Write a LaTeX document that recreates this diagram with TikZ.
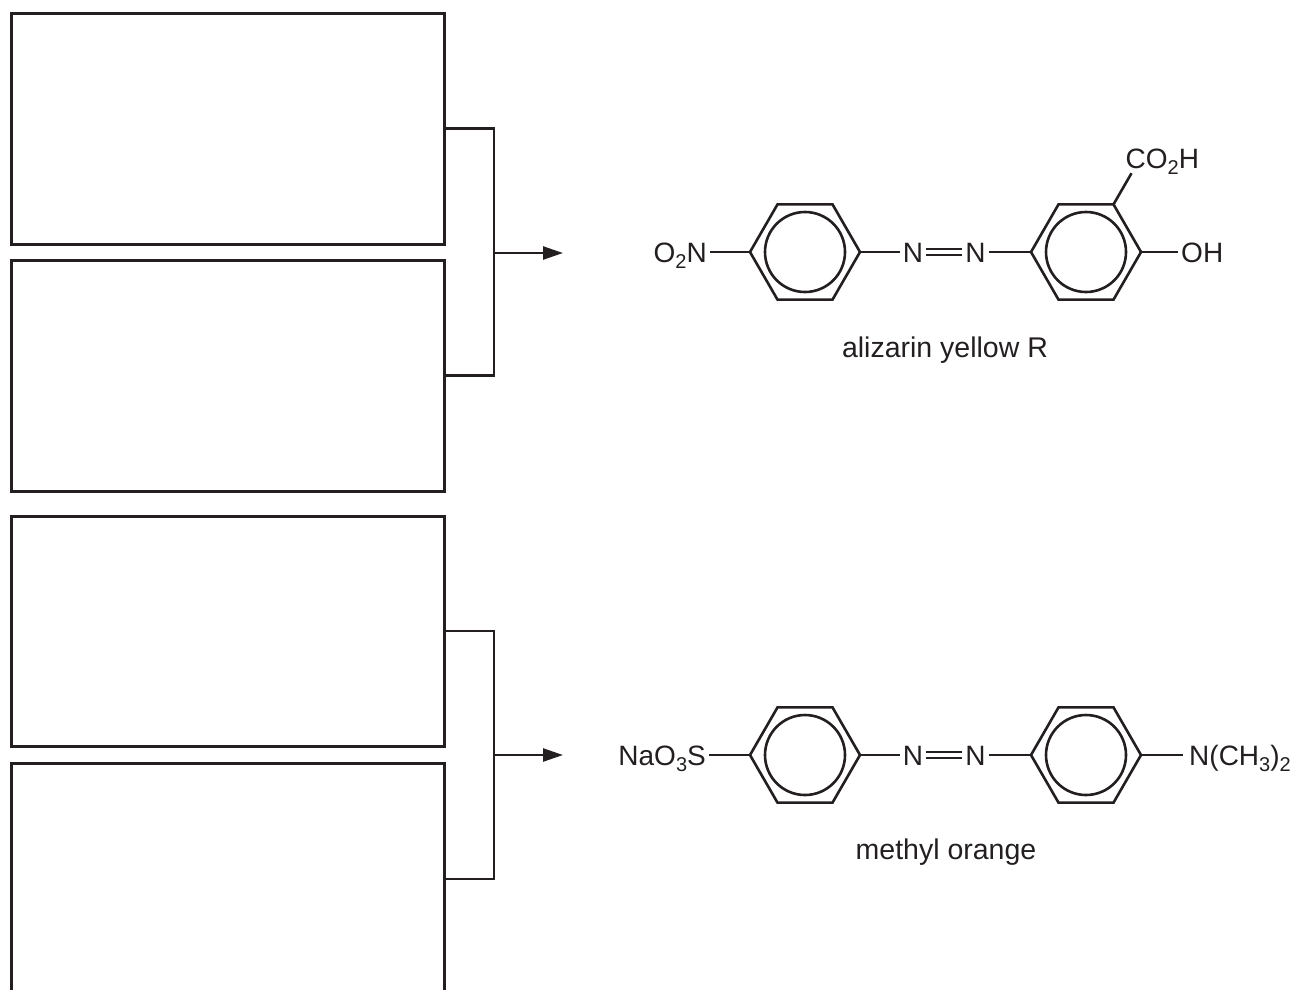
\documentclass[tikz,border=0pt]{standalone}
\usepackage{fontspec}
\setmainfont{Liberation Sans}
\usetikzlibrary{arrows.meta,calc}
\definecolor{ink}{HTML}{231F20}
\newcommand\chemsub[1]{\raisebox{-6.5pt}{\fontsize{20}{20}\selectfont #1}}
\tikzset{
  box/.style={draw=ink, line width=3pt, rectangle, inner sep=0pt, minimum width=433pt},
  link/.style={draw=ink, line width=2.5pt},
  arr/.style={link, -{Triangle[length=20pt,width=13pt]}},
  bond/.style={draw=ink, line width=2.6pt},
  atom/.style={inner xsep=3pt, inner ysep=0pt, font=\fontsize{28}{32}\selectfont, text=ink},
  caption/.style={inner sep=0pt, font=\fontsize{28.5}{32}\selectfont, text=ink, anchor=base},
}
\newcommand\benzring[2]{%
  \coordinate (#1) at #2;
  \foreach \k in {1,...,6} \coordinate (#1-\k) at ($(#1)+({60*(\k-1)}:55)$);
  \draw[bond] (#1-1) -- (#1-2) -- (#1-3) -- (#1-4) -- (#1-5) -- (#1-6) -- cycle;
  \draw[bond] (#1) circle[radius=40];
}
\begin{document}
\begin{tikzpicture}[x=1pt,y=-1pt]
\useasboundingbox (0,0) rectangle (1292,989);
% boxes
\node[box, minimum height=231pt] (b1) at (227.5,128.5) {};
\node[box, minimum height=231pt] (b2) at (227.5,375.5) {};
\node[box, minimum height=230pt] (b3) at (227.5,631) {};
\node[box, minimum height=232pt] (b4) at (227.5,879) {};
% brackets and arrows
\coordinate (j1) at (494,253);
\coordinate (a1) at (563,253);
\coordinate (j2) at (494,755);
\coordinate (a2) at (563,755);
\draw[link] (b1.east) -| (j1) |- (b2.east);
\draw[arr] (j1) -- (a1);
\draw[link] (b3.east) -| (j2) |- (b4.east);
\draw[arr] (j2) -- (a2);

% alizarin yellow R
\benzring{ra}{(805,252)}
\benzring{rb}{(1086,252)}
\node[atom, anchor=base east] (o2n) at (710,262) {O\chemsub{2}N};
\node[atom, anchor=base] (na1) at (913,262) {N};
\node[atom, anchor=base] (na2) at (975.5,262) {N};
\node[atom, anchor=base west] (oh) at (1178,262) {OH};
\coordinate (cb) at ($(rb-6)+(-60:36)$);
\node[atom, inner xsep=0pt, anchor=base west] (co2h) at ($(cb)+(-6,-5)$) {CO\chemsub{2}H};
\draw[bond] (o2n.east |- ra) -- (ra-4);
\draw[bond] (ra-1) -- (na1.west |- ra);
\draw[bond] ($(na1.east |- ra)+(0,-3)$) -- ($(na2.west |- ra)+(0,-3)$);
\draw[bond] ($(na1.east |- ra)+(0,3)$) -- ($(na2.west |- ra)+(0,3)$);
\draw[bond] (na2.east |- rb) -- (rb-4);
\draw[bond] (rb-1) -- (oh.west |- rb);
\draw[bond] (rb-6) -- (cb);
\node[caption] (cap1) at (945,357) {alizarin yellow R};

% methyl orange
\benzring{rc}{(805,755)}
\benzring{rd}{(1086,755)}
\node[atom, anchor=base east] (naso) at (709,765) {NaO\chemsub{3}S};
\node[atom, anchor=base] (nb1) at (913,765) {N};
\node[atom, anchor=base] (nb2) at (975.5,765) {N};
\node[atom, anchor=base west] (nme) at (1186,765) {N(CH\chemsub{3})\chemsub{2}};
\draw[bond] (naso.east |- rc) -- (rc-4);
\draw[bond] (rc-1) -- (nb1.west |- rc);
\draw[bond] ($(nb1.east |- rc)+(0,-3)$) -- ($(nb2.west |- rc)+(0,-3)$);
\draw[bond] ($(nb1.east |- rc)+(0,3)$) -- ($(nb2.west |- rc)+(0,3)$);
\draw[bond] (nb2.east |- rd) -- (rd-4);
\draw[bond] (rd-1) -- ($(nme.west |- rd)+(-3,0)$);
\node[caption] (cap2) at (946,859) {methyl orange};
\end{tikzpicture}
\end{document}
